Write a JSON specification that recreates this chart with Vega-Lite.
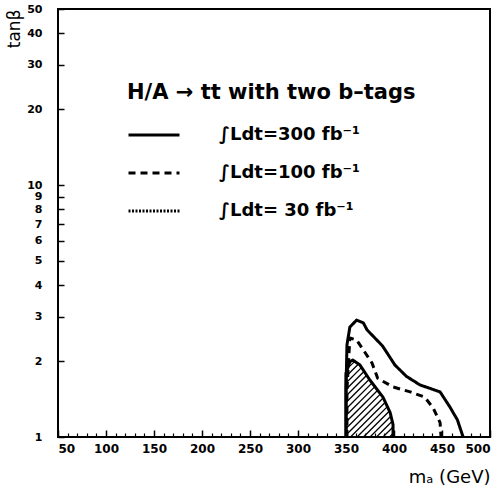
{
  "$schema": "https://vega.github.io/schema/vega-lite/v6.json",
  "width": 432,
  "height": 428,
  "autosize": {"type": "none"},
  "padding": {"left": 58, "top": 9, "right": 7, "bottom": 51},
  "background": "white",
  "config": {
    "view": {"stroke": "black", "strokeWidth": 2},
    "font": "DejaVu Sans",
    "axis": {"grid": false, "domain": false, "tickColor": "black", "labelColor": "black", "titleColor": "black"}
  },
  "datasets": {
    "contours": [
      {"lumi": "∫Ldt=300 fb⁻¹", "k": 0, "m": 350, "tanb": 1.0},
      {"lumi": "∫Ldt=300 fb⁻¹", "k": 1, "m": 350, "tanb": 1.54},
      {"lumi": "∫Ldt=300 fb⁻¹", "k": 2, "m": 351, "tanb": 2.32},
      {"lumi": "∫Ldt=300 fb⁻¹", "k": 3, "m": 354, "tanb": 2.73},
      {"lumi": "∫Ldt=300 fb⁻¹", "k": 4, "m": 361, "tanb": 2.91},
      {"lumi": "∫Ldt=300 fb⁻¹", "k": 5, "m": 368, "tanb": 2.84},
      {"lumi": "∫Ldt=300 fb⁻¹", "k": 6, "m": 372, "tanb": 2.66},
      {"lumi": "∫Ldt=300 fb⁻¹", "k": 7, "m": 388, "tanb": 2.3},
      {"lumi": "∫Ldt=300 fb⁻¹", "k": 8, "m": 401, "tanb": 1.93},
      {"lumi": "∫Ldt=300 fb⁻¹", "k": 9, "m": 413, "tanb": 1.74},
      {"lumi": "∫Ldt=300 fb⁻¹", "k": 10, "m": 427, "tanb": 1.61},
      {"lumi": "∫Ldt=300 fb⁻¹", "k": 11, "m": 448, "tanb": 1.51},
      {"lumi": "∫Ldt=300 fb⁻¹", "k": 12, "m": 458, "tanb": 1.32},
      {"lumi": "∫Ldt=300 fb⁻¹", "k": 13, "m": 466, "tanb": 1.17},
      {"lumi": "∫Ldt=300 fb⁻¹", "k": 14, "m": 472, "tanb": 1.0},
      {"lumi": "∫Ldt=100 fb⁻¹", "k": 0, "m": 351, "tanb": 1.0},
      {"lumi": "∫Ldt=100 fb⁻¹", "k": 1, "m": 351, "tanb": 1.54},
      {"lumi": "∫Ldt=100 fb⁻¹", "k": 2, "m": 354, "tanb": 2.47},
      {"lumi": "∫Ldt=100 fb⁻¹", "k": 3, "m": 361, "tanb": 2.43},
      {"lumi": "∫Ldt=100 fb⁻¹", "k": 4, "m": 370, "tanb": 2.16},
      {"lumi": "∫Ldt=100 fb⁻¹", "k": 5, "m": 377, "tanb": 1.97},
      {"lumi": "∫Ldt=100 fb⁻¹", "k": 6, "m": 383, "tanb": 1.71},
      {"lumi": "∫Ldt=100 fb⁻¹", "k": 7, "m": 399, "tanb": 1.58},
      {"lumi": "∫Ldt=100 fb⁻¹", "k": 8, "m": 417, "tanb": 1.51},
      {"lumi": "∫Ldt=100 fb⁻¹", "k": 9, "m": 432, "tanb": 1.44},
      {"lumi": "∫Ldt=100 fb⁻¹", "k": 10, "m": 441, "tanb": 1.3},
      {"lumi": "∫Ldt=100 fb⁻¹", "k": 11, "m": 448, "tanb": 1.14},
      {"lumi": "∫Ldt=100 fb⁻¹", "k": 12, "m": 449, "tanb": 1.0},
      {"lumi": "∫Ldt= 30 fb⁻¹", "k": 0, "m": 350, "tanb": 1.0},
      {"lumi": "∫Ldt= 30 fb⁻¹", "k": 1, "m": 350, "tanb": 1.79},
      {"lumi": "∫Ldt= 30 fb⁻¹", "k": 2, "m": 354, "tanb": 1.99},
      {"lumi": "∫Ldt= 30 fb⁻¹", "k": 3, "m": 357, "tanb": 2.02},
      {"lumi": "∫Ldt= 30 fb⁻¹", "k": 4, "m": 364.6, "tanb": 1.93},
      {"lumi": "∫Ldt= 30 fb⁻¹", "k": 5, "m": 375, "tanb": 1.68},
      {"lumi": "∫Ldt= 30 fb⁻¹", "k": 6, "m": 388.5, "tanb": 1.44},
      {"lumi": "∫Ldt= 30 fb⁻¹", "k": 7, "m": 396, "tanb": 1.25},
      {"lumi": "∫Ldt= 30 fb⁻¹", "k": 8, "m": 399, "tanb": 1.12},
      {"lumi": "∫Ldt= 30 fb⁻¹", "k": 9, "m": 399, "tanb": 1.0}
    ],
    "hatch": [
      {"m": 351.7, "tanb": 1.872, "m2": 359.0, "tanb2": 1.996},
      {"m": 350, "tanb": 1.739, "m2": 363.0, "tanb2": 1.949},
      {"m": 350, "tanb": 1.638, "m2": 366.3, "tanb2": 1.889},
      {"m": 350, "tanb": 1.544, "m2": 369.0, "tanb2": 1.823},
      {"m": 350, "tanb": 1.455, "m2": 371.6, "tanb2": 1.758},
      {"m": 350, "tanb": 1.371, "m2": 374.3, "tanb2": 1.696},
      {"m": 350, "tanb": 1.292, "m2": 377.2, "tanb2": 1.64},
      {"m": 350, "tanb": 1.217, "m2": 380.1, "tanb2": 1.585},
      {"m": 350, "tanb": 1.147, "m2": 383.0, "tanb2": 1.532},
      {"m": 350, "tanb": 1.081, "m2": 386.0, "tanb2": 1.483},
      {"m": 350, "tanb": 1.018, "m2": 388.9, "tanb2": 1.432},
      {"m": 354.7, "tanb": 1, "m2": 390.9, "tanb2": 1.374},
      {"m": 361.5, "tanb": 1, "m2": 393.1, "tanb2": 1.32},
      {"m": 368.2, "tanb": 1, "m2": 395.3, "tanb2": 1.268},
      {"m": 375.0, "tanb": 1, "m2": 396.9, "tanb2": 1.211},
      {"m": 381.8, "tanb": 1, "m2": 398.1, "tanb2": 1.154},
      {"m": 388.5, "tanb": 1, "m2": 399.0, "tanb2": 1.096},
      {"m": 395.3, "tanb": 1, "m2": 399.0, "tanb2": 1.033}
    ]
  },
  "resolve": {"axis": {"x": "independent"}},
  "layer": [
    {
      "description": "hatching of the 30 fb-1 discovery region",
      "data": {"name": "hatch"},
      "mark": {"type": "rule", "color": "black", "strokeWidth": 1.3},
      "encoding": {
        "x": {
          "field": "m", "type": "quantitative",
          "scale": {"domain": [50, 500], "nice": false, "zero": false},
          "axis": null
        },
        "y": {"field": "tanb", "type": "quantitative", "scale": {"type": "log", "domain": [1, 50], "nice": false}},
        "x2": {"field": "m2"},
        "y2": {"field": "tanb2"}
      }
    },
    {
      "description": "outline of the 30 fb-1 region, carrying the minor ticks of the mass axis",
      "data": {"name": "contours"},
      "transform": [{"filter": "datum.lumi === '∫Ldt= 30 fb⁻¹'"}],
      "mark": {"type": "line", "color": "black", "strokeWidth": 3, "strokeJoin": "round"},
      "encoding": {
        "x": {
          "field": "m", "type": "quantitative",
          "axis": {
            "orient": "bottom", "title": null, "labels": false, "domain": false,
            "tickSize": -4, "tickWidth": 1.2, "ticks": true,
            "values": [60, 70, 80, 90, 110, 120, 130, 140, 160, 170, 180, 190, 210, 220, 230, 240, 260, 270, 280, 290, 310, 320, 330, 340, 360, 370, 380, 390, 410, 420, 430, 440, 460, 470, 480, 490]
          }
        },
        "y": {"field": "tanb", "type": "quantitative"},
        "order": {"field": "k"}
      }
    },
    {
      "description": "300 and 100 fb-1 contours; the legend lists all three luminosities",
      "data": {"name": "contours"},
      "transform": [{"filter": "datum.lumi !== '∫Ldt= 30 fb⁻¹'"}],
      "mark": {"type": "line", "color": "black", "strokeWidth": 3, "strokeJoin": "round"},
      "encoding": {
        "x": {
          "field": "m", "type": "quantitative",
          "axis": {
            "orient": "bottom", "title": "mₐ (GeV)", "titleAnchor": "end", "titleFontSize": 18, "titleFontWeight": "normal", "titlePadding": 14,
            "values": [50, 100, 150, 200, 250, 300, 350, 400, 450, 500],
            "tickSize": -7, "tickWidth": 1.5, "labelFontSize": 12, "labelFontWeight": "bold", "labelPadding": 13
          }
        },
        "y": {
          "field": "tanb", "type": "quantitative",
          "axis": {
            "title": "tanβ", "titleAnchor": "end", "titleFontSize": 17, "titleFontWeight": "normal", "titlePadding": 3,
            "values": [1, 2, 3, 4, 5, 6, 7, 8, 9, 10, 20, 30, 40, 50],
            "tickSize": -6, "tickWidth": 1.5, "labelFontSize": 11, "labelFontWeight": "bold", "labelPadding": 22
          }
        },
        "strokeDash": {
          "field": "lumi", "type": "nominal",
          "scale": {
            "domain": ["∫Ldt=300 fb⁻¹", "∫Ldt=100 fb⁻¹", "∫Ldt= 30 fb⁻¹"],
            "range": [[1, 0], [7, 5], [2, 1.5]]
          },
          "legend": {
            "title": "H/A  →  tt with two b–tags", "titleFontSize": 21, "titleFontWeight": "bold", "titlePadding": 5, "titleLimit": 400,
            "orient": "none", "legendX": 69, "legendY": 73, "padding": 0,
            "symbolType": "stroke", "symbolSize": 2600, "symbolStrokeWidth": 3, "symbolStrokeColor": "black",
            "labelFontSize": 18, "labelFontWeight": "bold", "labelOffset": 38, "rowPadding": 2, "labelLimit": 300
          }
        },
        "order": {"field": "k"}
      }
    }
  ]
}
